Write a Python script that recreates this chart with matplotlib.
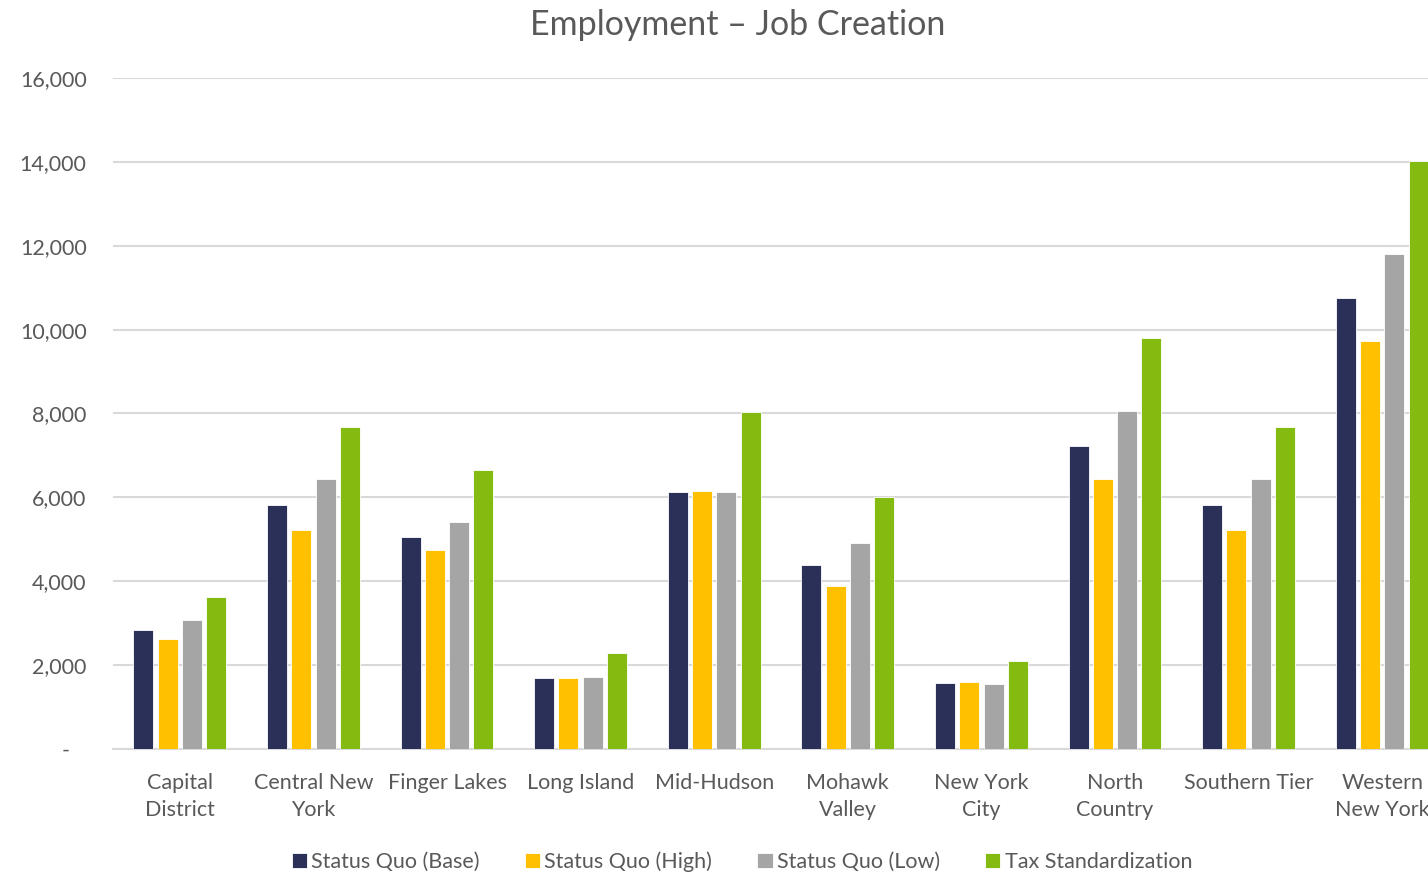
import matplotlib.pyplot as plt
import numpy as np

plt.rcParams['font.family'] = ['Lato', 'DejaVu Sans']

regions = ["Capital\nDistrict", "Central New\nYork", "Finger Lakes", "Long Island", "Mid-Hudson",
           "Mohawk\nValley", "New York\nCity", "North\nCountry", "Southern Tier", "Western\nNew York"]
series = ["Status Quo (Base)", "Status Quo (High)", "Status Quo (Low)", "Tax Standardization"]
base = [2840, 5820, 5060, 1700, 6120, 4390, 1570, 7230, 5820, 10750]
high = [2620, 5230, 4750, 1700, 6150, 3880, 1600, 6430, 5230, 9730]
low = [3080, 6440, 5410, 1720, 6120, 4920, 1550, 8070, 6440, 11810]
tax = [3630, 7680, 6650, 2300, 8040, 6020, 2090, 9790, 7680, 14020]
colors = ['#2b3058', '#ffc000', '#a5a5a5', '#84bb10']
yticks = np.arange(0, 16001, 2000)
# zero shows as a dash, set in from the right like an accounting format
ytick_labels = ['-   '] + [f'{v:,}' for v in yticks[1:]]

txt = '#595959'
fig = plt.figure(figsize=(14.28, 8.73), dpi=100)
# right edge of the plot is cut off in the reference, so the axes run past the figure
ax = fig.add_axes([113 / 1428, 1 - 749 / 873, 1336 / 1428, (749 - 78) / 873])

x = np.arange(len(regions))
pitch = 0.182
width = 0.15
for i, (name, vals) in enumerate(zip(series, [base, high, low, tax])):
    ax.bar(x + (i - 1.5) * pitch, vals, width, color=colors[i], label=name,
           edgecolor='white', linewidth=0.6, zorder=3)

ax.set_xlim(-0.5, len(regions) - 0.5)
ax.set_ylim(0, 16000)
ax.set_yticks(yticks)
ax.set_yticklabels(ytick_labels)
ax.set_xticks(x)
ax.set_xticklabels(regions, linespacing=1.45)
ax.tick_params(axis='both', length=0, labelsize=15.5, colors=txt)
ax.tick_params(axis='y', pad=19)
ax.tick_params(axis='x', pad=17)
ax.grid(axis='y', color='#d9d9d9', linewidth=1.5, zorder=0)
for s in ['top', 'right', 'left']:
    ax.spines[s].set_visible(False)
ax.spines['bottom'].set_color('#d9d9d9')
ax.spines['bottom'].set_linewidth(1.5)

fig.text(738 / 1428, 1 - 25 / 873, 'Employment – Job Creation', ha='center', va='center',
         fontsize=24.5, color=txt)
fig.legend(*ax.get_legend_handles_labels(), loc='center', bbox_to_anchor=(742 / 1428, 1 - 862 / 873),
           ncol=4, frameon=False, fontsize=15.5, labelcolor=txt, handlelength=0.7, handleheight=0.7,
           handletextpad=0.2, columnspacing=2.1)

fig.savefig('out.png', dpi=100)
